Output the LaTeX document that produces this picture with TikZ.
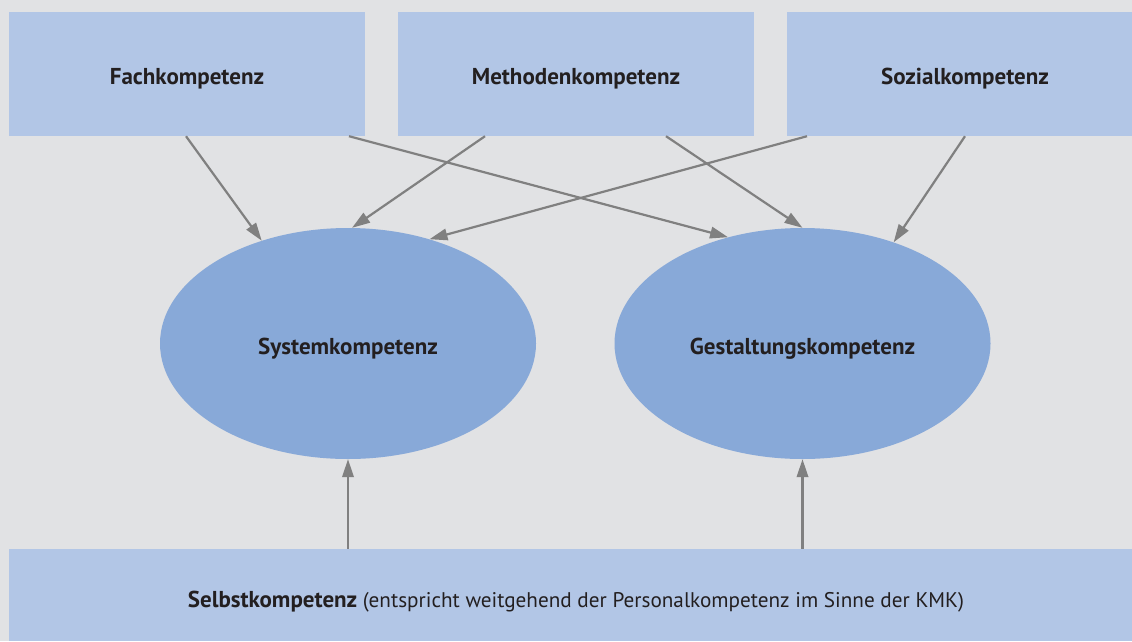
\documentclass[tikz,border=0pt]{standalone}
\usepackage{fontspec}
\setmainfont{PT Sans}
\usetikzlibrary{shapes.geometric,arrows.meta}
\definecolor{bgray}{HTML}{E1E2E4}
\definecolor{boxblue}{HTML}{B2C6E6}
\definecolor{ellblue}{HTML}{88A9D8}
\definecolor{arrgray}{HTML}{808080}
\definecolor{txt}{HTML}{231F20}
\newcommand\kfont{\fontsize{23}{26}\selectfont\bfseries}
\tikzset{
  kbox/.style={fill=boxblue, draw=none, rectangle, minimum width=356pt, minimum height=124pt,
    inner sep=0pt, font=\kfont, text=txt, text height=20pt, text depth=0pt},
  kell/.style={fill=ellblue, draw=none, ellipse, minimum width=376pt, minimum height=231pt,
    inner sep=0pt, font=\kfont, text=txt, text height=21pt, text depth=0pt},
  karr/.style={draw=arrgray, line width=2.2pt, -{Triangle[length=18pt,width=11.5pt]}},
}
\begin{document}
\begin{tikzpicture}[x=1pt,y=-1pt]
  \useasboundingbox (0,0) rectangle (1132,641);
  \clip (0,0) rectangle (1132,641);
  \fill[bgray] (0,0) rectangle (1132,641);

  % top row of competences
  \node[kbox] (fach) at (187,74) {Fachkompetenz};
  \node[kbox] (meth) at (576,74) {Methodenkompetenz};
  \node[kbox] (sozi) at (965,74) {Sozialkompetenz};

  % the two resulting competences
  \node[kell] (sys) at (348,343.5) {Systemkompetenz};
  \node[kell] (ges) at (802.5,343.5) {Gestaltungskompetenz};

  % base
  \node[fill=boxblue, rectangle, minimum width=1134pt, minimum height=92pt, inner sep=0pt,
    font=\fontsize{21.2}{24}\selectfont, text=txt, text height=25pt, text depth=0pt] (selbst) at (576,595)
    {{\kfont Selbstkompetenz} (entspricht weitgehend der Personalkompetenz im Sinne der KMK)};

  % connectors
  \draw[karr] ([xshift=-1pt]fach.south) -- (sys.130.7);
  \draw[karr] ([xshift=162pt]fach.south) -- (ges.125.7);
  \draw[karr] ([xshift=-91pt]meth.south) -- (sys.88);
  \draw[karr] ([xshift=90pt]meth.south) -- (ges.90);
  \draw[karr] ([xshift=-158pt]sozi.south) -- (sys.52.1);
  \draw[karr] ([xshift=0pt]sozi.south) -- (ges.48.8);
  \draw[karr] (selbst.north -| sys.south) -- (sys.south);
  \draw[karr] (selbst.north -| ges.south) -- (ges.south);
\end{tikzpicture}
\end{document}
